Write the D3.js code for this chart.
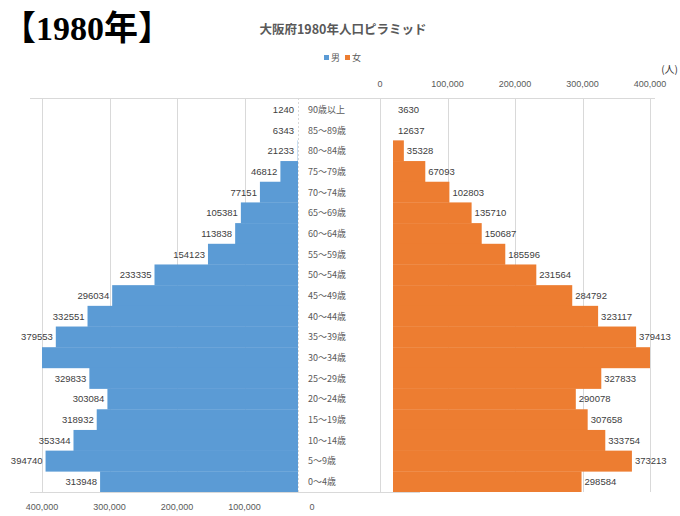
<!DOCTYPE html>
<html><head><meta charset="utf-8">
<script src="https://cdn.jsdelivr.net/npm/d3@7"></script>
<style>body{margin:0;background:#fff}svg{display:block}</style>
</head><body>
<svg id="c" width="680" height="516"></svg>
<script>
const ages = ["90歳以上","85～89歳","80～84歳","75～79歳","70～74歳","65～69歳","60～64歳","55～59歳","50～54歳","45～49歳","40～44歳","35～39歳","30～34歳","25～29歳","20～24歳","15～19歳","10～14歳","5～9歳","0～4歳"];
const male   = [1240,6343,21233,46812,77151,105381,113838,154123,233335,296034,332551,379553,430000,329833,303084,318932,353344,394740,313948];
const female = [3630,12637,35328,67093,102803,135710,150687,185596,231564,284792,323117,379413,424000,327833,290078,307658,333754,373213,298584];
const ticks = [0,100000,200000,300000,400000];
const legendItems = [{name:"男",color:"#5B9BD5"},{name:"女",color:"#ED7D31"}];

const svg = d3.select("#c");
const fmt = d3.format(",");
const maxV = 400000;
const xL = d3.scaleLinear().domain([0,maxV]).range([312,42]);
const xR = d3.scaleLinear().domain([0,maxV]).range([380,650]);
const y = d3.scaleBand().domain(ages).range([99,492]).padding(0);
const grid = "#d9d9d9", txt = "#595959";

// big heading
svg.append("text").attr("x",2).attr("y",40)
  .style("font-family","'Liberation Serif','DejaVu Serif','Noto Sans CJK JP',serif")
  .style("font-weight","bold").style("font-size","34px").attr("fill","#000")
  .text("【1980年】");
// chart title
svg.append("text").attr("x",343).attr("y",34).attr("text-anchor","middle")
  .style("font-family","'Noto Sans CJK JP',sans-serif").style("font-weight","bold")
  .style("font-size","12.5px").attr("fill",txt).text("大阪府1980年人口ピラミッド");
// legend
const lg = svg.append("g").attr("transform","translate(324,58)");
legendItems.forEach((d,i)=>{
  const g = lg.append("g").attr("transform",`translate(${i*21},0)`);
  g.append("rect").attr("x",0).attr("y",-3).attr("width",5).attr("height",5).attr("fill",d.color);
  g.append("text").attr("x",7).attr("y",3).style("font-family","'Noto Sans CJK JP',sans-serif")
    .style("font-size","9px").attr("fill",txt).text(d.name);
});
svg.append("text").attr("x",678).attr("y",73).attr("text-anchor","end")
  .style("font-family","'Noto Sans CJK JP',sans-serif").style("font-size","10px").attr("fill","#333").text("(人)");

// gridlines
const gg = svg.append("g").attr("stroke",grid).attr("stroke-width",1);
ticks.filter(t=>t>0).forEach(t=>{
  gg.append("line").attr("x1",Math.round(xL(t))+0.5).attr("x2",Math.round(xL(t))+0.5).attr("y1",98).attr("y2",492);
  gg.append("line").attr("x1",Math.round(xR(t))+0.5).attr("x2",Math.round(xR(t))+0.5).attr("y1",98).attr("y2",492);
});
gg.append("line").attr("x1",xR(0)+0.5).attr("x2",xR(0)+0.5).attr("y1",98).attr("y2",492);
gg.append("line").attr("x1",298.5).attr("x2",298.5).attr("y1",98).attr("y2",492).attr("stroke-dasharray","2,2");
gg.append("line").attr("x1",30).attr("x2",655).attr("y1",98.5).attr("y2",98.5);
gg.append("line").attr("x1",30).attr("x2",420).attr("y1",492.5).attr("y2",492.5);

// clips
const defs = svg.append("defs");
defs.append("clipPath").attr("id","cl").append("rect").attr("x",xL(maxV)).attr("y",99).attr("width",298-xL(maxV)).attr("height",393);
defs.append("clipPath").attr("id","cr").append("rect").attr("x",393).attr("y",99).attr("width",xR(maxV)-393).attr("height",393);

svg.append("g").attr("clip-path","url(#cl)").selectAll("rect").data(ages).join("rect")
  .attr("x",(d,i)=>xL(Math.min(male[i],maxV))).attr("y",d=>y(d))
  .attr("width",(d,i)=>xL(0)-xL(Math.min(male[i],maxV))).attr("height",y.bandwidth()+0.3)
  .attr("fill","#5B9BD5");
svg.append("g").attr("clip-path","url(#cr)").selectAll("rect").data(ages).join("rect")
  .attr("x",xR(0)).attr("y",d=>y(d))
  .attr("width",(d,i)=>xR(Math.min(female[i],maxV))-xR(0)).attr("height",y.bandwidth()+0.3)
  .attr("fill","#ED7D31");

// data labels
const lf = "'Liberation Sans','DejaVu Sans',sans-serif";
svg.append("g").selectAll("text").data(ages).join("text")
  .filter((d,i)=>male[i]<=maxV)
  .attr("x",d=>{const i=ages.indexOf(d);return Math.min(xL(male[i])-3,294);})
  .attr("y",d=>y(d)+y.bandwidth()/2+3.5).attr("text-anchor","end")
  .style("font-family",lf).style("font-size","9.5px").attr("fill","#404040")
  .text(d=>male[ages.indexOf(d)]);
svg.append("g").selectAll("text").data(ages).join("text")
  .filter((d,i)=>female[i]<=maxV)
  .attr("x",d=>{const i=ages.indexOf(d);return Math.max(xR(female[i])+3,398);})
  .attr("y",d=>y(d)+y.bandwidth()/2+3.5).attr("text-anchor","start")
  .style("font-family",lf).style("font-size","9.5px").attr("fill","#404040")
  .text(d=>female[ages.indexOf(d)]);

// category labels
svg.append("g").selectAll("text").data(ages).join("text")
  .attr("x",308).attr("y",d=>y(d)+y.bandwidth()/2+3.5)
  .style("font-family","'Noto Sans CJK JP',sans-serif").style("font-size","9px").attr("fill",txt)
  .text(d=>d);

// axes tick labels
svg.append("g").selectAll("text").data(ticks).join("text")
  .attr("x",d=>xL(d)).attr("y",510).attr("text-anchor","middle")
  .style("font-family",lf).style("font-size","9px").attr("fill",txt).text(d=>fmt(d));
svg.append("g").selectAll("text").data(ticks).join("text")
  .attr("x",d=>xR(d)).attr("y",87).attr("text-anchor","middle")
  .style("font-family",lf).style("font-size","9px").attr("fill",txt).text(d=>fmt(d));
</script>
</body></html>
